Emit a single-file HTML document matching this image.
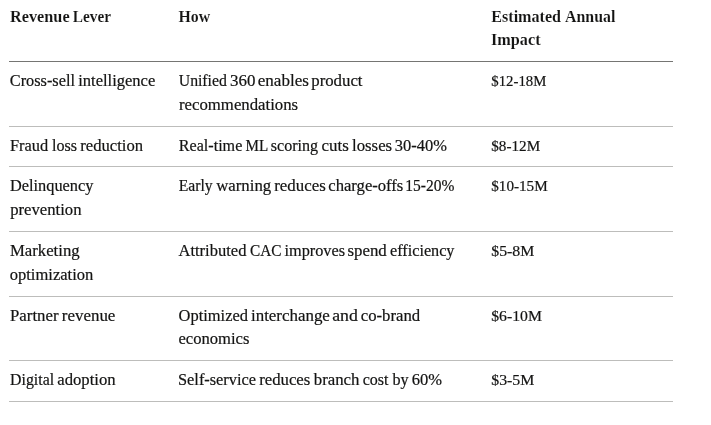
<!DOCTYPE html>
<html><head><meta charset="utf-8">
<style>
html,body{margin:0;padding:0;background:#fff;}
body{width:711px;height:425px;overflow:hidden;position:relative;font-family:"Liberation Serif",serif;color:#141413;}
.l{position:absolute;left:0;white-space:nowrap;font-size:16px;line-height:24px;height:24px;-webkit-text-stroke:0.2px #141413;}
.l span{position:absolute;top:0;display:block;transform-origin:0 0;}
.b{font-weight:bold;font-size:16px;-webkit-text-stroke:0.1px #fff;}
.r{position:absolute;left:9px;width:664px;height:1px;}
</style></head><body>
<div role="table" aria-label="Revenue levers">
<div role="row">
<div role="columnheader">
<div class="l b" style="top:5px"><span style="left:10px;transform:translateX(0.01px) scaleX(1.0159)">Revenue</span> <span style="left:72px;transform:translateX(0.77px) scaleX(0.9572)">Lever</span></div>
</div>
<div role="columnheader">
<div class="l b" style="top:5px"><span style="left:178px;transform:translateX(0.53px) scaleX(0.9883)">How</span></div>
</div>
<div role="columnheader">
<div class="l b" style="top:5px"><span style="left:491px;transform:translateX(0.27px) scaleX(1.0061)">Estimated</span> <span style="left:565px;transform:translateX(0.01px) scaleX(0.9933)">Annual</span></div>
<div class="l b" style="top:28px"><span style="left:491px;transform:translateX(0.03px) scaleX(1.0133)">Impact</span></div>
</div>
<div class="r" style="top:61px;background:#757573"></div>
</div>
<div role="row">
<div role="cell">
<div class="l" style="top:69px"><span style="left:9px;transform:translateX(0.77px) scaleX(1.0181)">Cross-sell</span> <span style="left:78px;transform:translateX(0.25px) scaleX(1.0316)">intelligence</span></div>
</div>
<div role="cell">
<div class="l" style="top:69px"><span style="left:178px;transform:translateX(0.76px) scaleX(0.9839)">Unified</span> <span style="left:229px;transform:translateX(1.00px) scaleX(1.0580)">360</span> <span style="left:257px;transform:translateX(0.75px) scaleX(1.0653)">enables</span> <span style="left:311px;transform:translateX(0.25px) scaleX(1.0487)">product</span></div>
<div class="l" style="top:93px"><span style="left:179px;transform:translateX(0.00px) scaleX(1.0472)">recommendations</span></div>
</div>
<div role="cell">
<div class="l" style="top:69px;font-size:14.8px"><span style="left:491px;transform:translateX(0.28px) scaleX(0.9992)">$12-18M</span></div>
</div>
<div class="r" style="top:126px;background:#bdbdbb"></div>
</div>
<div role="row">
<div role="cell">
<div class="l" style="top:134px"><span style="left:10px;transform:translateX(0.01px) scaleX(1.0236)">Fraud</span> <span style="left:52px;transform:translateX(0.01px) scaleX(1.0045)">loss</span> <span style="left:80px;transform:translateX(0.25px) scaleX(1.0384)">reduction</span></div>
</div>
<div role="cell">
<div class="l" style="top:134px"><span style="left:178px;transform:translateX(0.77px) scaleX(1.0070)">Real-time</span> <span style="left:245px;transform:translateX(0.54px) scaleX(0.9443)">ML</span> <span style="left:270px;transform:translateX(0.79px) scaleX(1.0027)">scoring</span> <span style="left:321px;transform:translateX(0.50px) scaleX(1.0560)">cuts</span> <span style="left:352px;transform:translateX(0.00px) scaleX(1.0493)">losses</span> <span style="left:394px;transform:translateX(0.77px) scaleX(1.0287)">30-40%</span></div>
</div>
<div role="cell">
<div class="l" style="top:134px;font-size:14.8px"><span style="left:491px;transform:translateX(0.27px) scaleX(1.0257)">$8-12M</span></div>
</div>
<div class="r" style="top:166px;background:#bdbdbb"></div>
</div>
<div role="row">
<div role="cell">
<div class="l" style="top:174px"><span style="left:10px;transform:translateX(0.01px) scaleX(1.0194)">Delinquency</span></div>
<div class="l" style="top:198px"><span style="left:10px;transform:translateX(0.25px) scaleX(1.0409)">prevention</span></div>
</div>
<div role="cell">
<div class="l" style="top:174px"><span style="left:178px;transform:translateX(0.78px) scaleX(0.9773)">Early</span> <span style="left:216px;transform:translateX(0.25px) scaleX(1.0466)">warning</span> <span style="left:274px;transform:translateX(0.25px) scaleX(1.0527)">reduces</span> <span style="left:328px;transform:translateX(0.26px) scaleX(1.0390)">charge-offs</span> <span style="left:405px;transform:translateX(0.36px) scaleX(0.9693)">15-20%</span></div>
</div>
<div role="cell">
<div class="l" style="top:174px;font-size:14.8px"><span style="left:491px;transform:translateX(0.27px) scaleX(1.0241)">$10-15M</span></div>
</div>
<div class="r" style="top:231px;background:#bdbdbb"></div>
</div>
<div role="row">
<div role="cell">
<div class="l" style="top:239px"><span style="left:10px;transform:translateX(0.00px) scaleX(1.0441)">Marketing</span></div>
<div class="l" style="top:263px"><span style="left:9px;transform:translateX(0.77px) scaleX(1.0320)">optimization</span></div>
</div>
<div role="cell">
<div class="l" style="top:239px"><span style="left:178px;transform:translateX(0.50px) scaleX(1.0326)">Attributed</span> <span style="left:250px;transform:translateX(0.06px) scaleX(0.9588)">CAC</span> <span style="left:284px;transform:translateX(0.51px) scaleX(1.0168)">improves</span> <span style="left:347px;transform:translateX(0.50px) scaleX(1.0519)">spend</span> <span style="left:390px;transform:translateX(0.02px) scaleX(1.0118)">efficiency</span></div>
</div>
<div role="cell">
<div class="l" style="top:239px;font-size:14.8px"><span style="left:491px;transform:translateX(0.24px) scaleX(1.0715)">$5-8M</span></div>
</div>
<div class="r" style="top:296px;background:#bdbdbb"></div>
</div>
<div role="row">
<div role="cell">
<div class="l" style="top:304px"><span style="left:10px;transform:translateX(0.00px) scaleX(1.0491)">Partner</span> <span style="left:61px;transform:translateX(0.75px) scaleX(1.0590)">revenue</span></div>
</div>
<div role="cell">
<div class="l" style="top:304px"><span style="left:178px;transform:translateX(0.52px) scaleX(1.0285)">Optimized</span> <span style="left:251px;transform:translateX(0.00px) scaleX(1.0566)">interchange</span> <span style="left:332px;transform:translateX(0.23px) scaleX(1.1087)">and</span> <span style="left:360px;transform:translateX(0.76px) scaleX(1.0440)">co-brand</span></div>
<div class="l" style="top:327px"><span style="left:178px;transform:translateX(0.51px) scaleX(1.0362)">economics</span></div>
</div>
<div role="cell">
<div class="l" style="top:304px;font-size:14.8px"><span style="left:491px;transform:translateX(0.25px) scaleX(1.0622)">$6-10M</span></div>
</div>
<div class="r" style="top:360px;background:#bdbdbb"></div>
</div>
<div role="row">
<div role="cell">
<div class="l" style="top:368px"><span style="left:10px;transform:translateX(0.02px) scaleX(0.9916)">Digital</span> <span style="left:57px;transform:translateX(0.26px) scaleX(1.0411)">adoption</span></div>
</div>
<div role="cell">
<div class="l" style="top:368px"><span style="left:178px;transform:translateX(0.04px) scaleX(1.0200)">Self-service</span> <span style="left:259px;transform:translateX(0.25px) scaleX(1.0445)">reduces</span> <span style="left:313px;transform:translateX(0.75px) scaleX(1.0508)">branch</span> <span style="left:362px;transform:translateX(0.78px) scaleX(0.9986)">cost</span> <span style="left:392px;transform:translateX(0.50px) scaleX(1.0102)">by</span> <span style="left:411px;transform:translateX(0.76px) scaleX(1.0318)">60%</span></div>
</div>
<div role="cell">
<div class="l" style="top:368px;font-size:14.8px"><span style="left:491px;transform:translateX(0.24px) scaleX(1.0715)">$3-5M</span></div>
</div>
<div class="r" style="top:401px;background:#bdbdbb"></div>
</div>
</div>
</body></html>
